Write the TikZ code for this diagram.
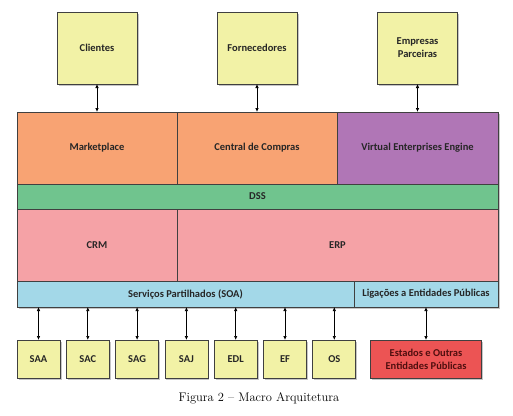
\documentclass[tikz,border=0pt]{standalone}
\usepackage{fontspec}
\newfontfamily\boxfont{Carlito}
\usetikzlibrary{arrows.meta, positioning, shadows}

\definecolor{extyellow}{RGB}{242,242,166}
\definecolor{mktorange}{RGB}{248,163,115}
\definecolor{veepurple}{RGB}{176,118,182}
\definecolor{dssgreen}{RGB}{112,196,142}
\definecolor{erppink}{RGB}{245,162,166}
\definecolor{soablue}{RGB}{163,216,232}
\definecolor{pubred}{RGB}{236,84,84}
\definecolor{boxline}{RGB}{64,64,64}
\definecolor{boxtext}{RGB}{38,38,38}

\begin{document}
\begin{tikzpicture}[x=1pt, y=1pt, node distance=0pt, box/.style={rectangle, draw=boxline, line width=.7pt, outer sep=0pt, inner sep=2pt, align=center, text=boxtext, font=\boxfont\bfseries\fontsize{10.5}{13}\selectfont, drop shadow={shadow xshift=1.5pt, shadow yshift=-1.5pt, opacity=.45}}, layer/.style={box, minimum height=72pt}, band/.style={box, minimum height=25pt}, ext/.style={box, fill=extyellow, minimum width=80pt, minimum height=72pt}, sys/.style={box, fill=extyellow, minimum width=43pt, minimum height=38pt}, arrow/.style={{Latex[length=4pt,width=3.5pt]}-{Latex[length=4pt,width=3.5pt]}, line width=.7pt}]
\useasboundingbox (0,0) rectangle (513,-415);
% application layer
\node[layer, fill=mktorange, minimum width=160pt, anchor=north west] (market) at (17,-112) {Marketplace};
\node[layer, fill=mktorange, minimum width=160pt, right=of market] (central) {Central de Compras};
\node[layer, fill=veepurple, minimum width=161pt, right=of central] (vee) {Virtual Enterprises Engine};
\node[band, fill=dssgreen, minimum width=481pt, anchor=north west] (dss) at (market.south west) {DSS};
\node[layer, fill=erppink, minimum width=160pt, anchor=north west] (crm) at (dss.south west) {CRM};
\node[layer, fill=erppink, minimum width=321pt, right=of crm] (erp) {ERP};
\node[band, fill=soablue, minimum height=26pt, minimum width=337pt, anchor=north west] (soa) at (crm.south west) {Serviços Partilhados (SOA)};
\node[band, fill=soablue, minimum height=26pt, minimum width=144pt, right=of soa] (lig) {Ligações a Entidades Públicas};
% external partners
\node[ext, above=28pt of market] (cli) {Clientes};
\node[ext, above=28pt of central] (forn) {Fornecedores};
\node[ext, above=28pt of vee] (emp) {Empresas\\Parceiras};
% services
\node[sys, anchor=north west] (saa) at ([yshift=-33pt]soa.south west) {SAA};
\node[sys, right=6.3pt of saa] (sac) {SAC};
\node[sys, right=6.3pt of sac] (sag) {SAG};
\node[sys, right=6.3pt of sag] (saj) {SAJ};
\node[sys, right=6.3pt of saj] (edl) {EDL};
\node[sys, right=6.3pt of edl] (ef) {EF};
\node[sys, right=6.3pt of ef] (os) {OS};
\node[box, fill=pubred, text={rgb,255:red,80;green,15;blue,15}, minimum width=111pt, minimum height=38pt, below=33pt of lig] (pub) {Estados e Outras\\Entidades Públicas};
\foreach \t/\b in {cli/market, forn/central, emp/vee}
  \draw[arrow] (\t) -- (\b);
\foreach \s in {saa, sac, sag, saj, edl, ef, os}
  \draw[arrow] (\s.north |- soa.south) -- (\s.north);
\draw[arrow] (lig) -- (pub);
\node[font=\fontsize{12.5}{15}\selectfont] (caption) at (259,-398) {Figura 2 – Macro Arquitetura};
\end{tikzpicture}
\end{document}
